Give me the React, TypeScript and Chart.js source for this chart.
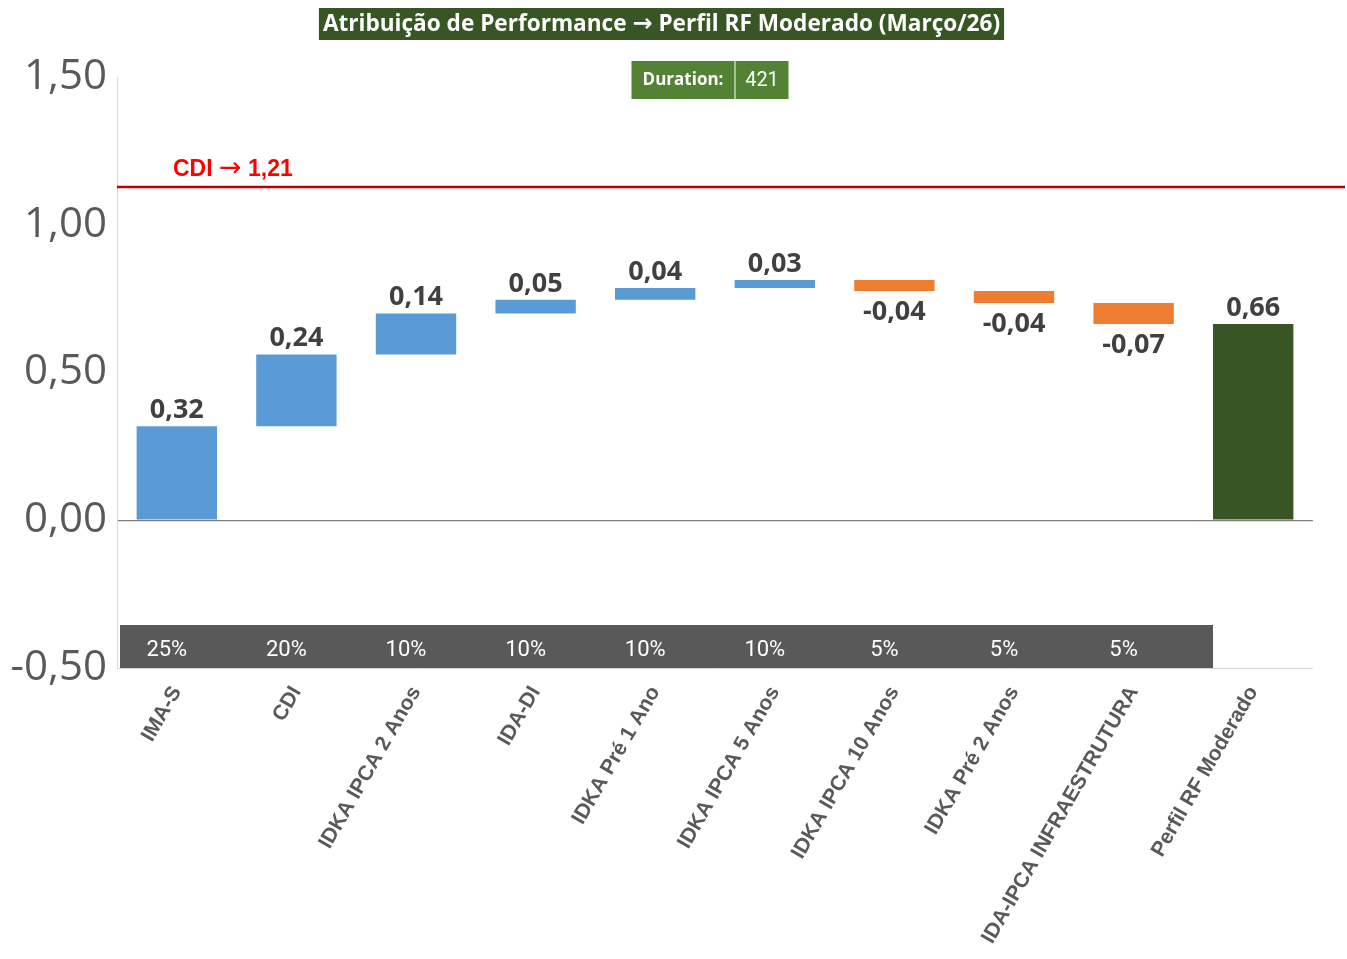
import React, { useEffect, useRef } from 'react';
import { Chart, registerables } from 'chart.js';

Chart.register(...registerables);

const titleLeft = 'Atribuição de Performance';
const titleRight = 'Perfil RF Moderado (Março/26)';
const arrowGlyph = '→';
const durationLabel = 'Duration:';
const durationValue = '421';
const categories = [
  'IMA-S',
  'CDI',
  'IDKA IPCA 2 Anos',
  'IDA-DI',
  'IDKA Pré 1 Ano',
  'IDKA IPCA 5 Anos',
  'IDKA IPCA 10 Anos',
  'IDKA Pré 2 Anos',
  'IDA-IPCA INFRAESTRUTURA',
  'Perfil RF Moderado',
];
const contributions = [0.318, 0.243, 0.139, 0.046, 0.04, 0.027, -0.037, -0.041, -0.071];
const totalValue = 0.664;
const weights = ['25%', '20%', '10%', '10%', '10%', '10%', '5%', '5%', '5%'];
const yMin = -0.5;
const yMax = 1.5;
const yStep = 0.5;
const cdiName = 'CDI';
const cdiReturnLabel = '1,21';
const cdiLineLevel = 1.128;

const fmt = (v: number) => v.toFixed(2).replace('.', ',');

const ranges: [number, number][] = [];
{
  let acc = 0;
  contributions.forEach((v) => {
    ranges.push([acc, acc + v]);
    acc += v;
  });
  ranges.push([0, totalValue]);
}
const labelValues = [...contributions, totalValue];
const barColors = labelValues.map((v, i) =>
  i === categories.length - 1 ? '#375623' : v >= 0 ? '#5B9BD5' : '#ED7D31'
);

function drawParts(ctx: CanvasRenderingContext2D, parts: [string, string][], x: number, y: number) {
  let cx = x;
  parts.forEach(([t, f]) => {
    ctx.font = f;
    ctx.fillText(t, cx, y);
    cx += ctx.measureText(t).width;
  });
}
function measureParts(ctx: CanvasRenderingContext2D, parts: [string, string][]) {
  let w = 0;
  parts.forEach(([t, f]) => {
    ctx.font = f;
    w += ctx.measureText(t).width;
  });
  return w;
}

const overlayPlugin = {
  id: 'overlay',
  beforeDatasetsDraw(chart: any) {
    const { ctx, chartArea, scales } = chart;
    const y = scales.y;
    const meta = chart.getDatasetMeta(0);
    const last = meta.data[meta.data.length - 1];
    const bottom = y.getPixelForValue(yMin);
    const left = chartArea.left + 3;
    const right = last.x - last.width / 2;
    ctx.save();
    // weights band
    ctx.fillStyle = '#595959';
    ctx.fillRect(left, bottom - 43, right - left, 43);
    ctx.fillStyle = '#FFFFFF';
    ctx.font = '22px Roboto';
    ctx.textAlign = 'center';
    ctx.textBaseline = 'middle';
    weights.forEach((w, i) => {
      ctx.fillText(w, meta.data[i].x - 10, bottom - 18);
    });
    // CDI line
    const ly = y.getPixelForValue(cdiLineLevel);
    ctx.strokeStyle = '#C00000';
    ctx.lineWidth = 2.5;
    ctx.beginPath();
    ctx.moveTo(chartArea.left, ly);
    ctx.lineTo(chart.width - 2, ly);
    ctx.stroke();
    ctx.fillStyle = '#FF0000';
    ctx.textAlign = 'left';
    ctx.textBaseline = 'alphabetic';
    drawParts(
      ctx,
      [
        [cdiName + ' ', 'bold 23px "Liberation Sans"'],
        [arrowGlyph, '27px "DejaVu Sans"'],
        [' ' + cdiReturnLabel, 'bold 23px "Liberation Sans"'],
      ],
      chartArea.left + 56,
      ly - 11
    );
    ctx.restore();
  },
  afterDatasetsDraw(chart: any) {
    const { ctx } = chart;
    const meta = chart.getDatasetMeta(0);
    ctx.save();
    ctx.fillStyle = '#404040';
    ctx.font = 'bold 27px "Open Sans"';
    ctx.textAlign = 'center';
    ctx.textBaseline = 'alphabetic';
    meta.data.forEach((el: any, i: number) => {
      const v = labelValues[i];
      const top = Math.min(el.y, el.base);
      const bot = Math.max(el.y, el.base);
      if (v >= 0) {
        ctx.fillText(fmt(v), el.x, top - 8);
      } else {
        ctx.fillText(fmt(v), el.x, bot + 29);
      }
    });
    ctx.restore();
  },
  afterDraw(chart: any) {
    const { ctx, chartArea } = chart;
    ctx.save();
    // title
    const tFont = 'bold 22.6px "Open Sans"';
    const parts: [string, string][] = [
      [titleLeft + ' ', tFont],
      [arrowGlyph, 'bold 24px "DejaVu Sans"'],
      [' ' + titleRight, tFont],
    ];
    const tw = measureParts(ctx, parts);
    const cx = chart.width / 2 - 12;
    const bw = tw + 8;
    ctx.fillStyle = '#375623';
    ctx.fillRect(cx - bw / 2, 8, bw, 32);
    ctx.fillStyle = '#FFFFFF';
    ctx.textAlign = 'left';
    ctx.textBaseline = 'middle';
    drawParts(ctx, parts, cx - tw / 2, 25);
    // duration box
    ctx.textAlign = 'center';
    const dcx = (chartArea.left + chartArea.right) / 2 - 5;
    const lw = 103;
    const vw = 53;
    const dl = dcx - (lw + vw + 1) / 2;
    ctx.fillStyle = '#548235';
    ctx.fillRect(dl, 61, lw, 38);
    ctx.fillRect(dl + lw + 1, 61, vw, 38);
    ctx.fillStyle = '#A9C79A';
    ctx.fillRect(dl + lw, 61, 1, 38);
    ctx.fillStyle = '#FFFFFF';
    ctx.font = 'bold 17px "Open Sans"';
    ctx.fillText(durationLabel, dl + lw / 2, 80);
    ctx.font = '20px Roboto';
    ctx.fillText(durationValue, dl + lw + 1 + vw / 2, 81);
    ctx.restore();
  },
};

export default function App() {
  const canvasRef = useRef<HTMLCanvasElement | null>(null);

  useEffect(() => {
    if (!canvasRef.current) return;
    const chart = new Chart(canvasRef.current, {
      type: 'bar',
      data: {
        labels: categories,
        datasets: [
          {
            data: ranges as any,
            backgroundColor: barColors,
            borderWidth: 0,
            categoryPercentage: 0.8,
            barPercentage: 0.84,
          },
        ],
      },
      options: {
        animation: false,
        responsive: true,
        maintainAspectRatio: false,
        layout: { padding: { top: 77, right: 34, bottom: 0, left: 0 } },
        plugins: {
          legend: { display: false },
          tooltip: { enabled: false },
          title: { display: false },
        },
        scales: {
          x: {
            grid: { display: false },
            border: { display: false },
            ticks: {
              color: '#595959',
              font: { family: '"Liberation Sans"', size: 21, weight: 'bold' },
              minRotation: 60,
              maxRotation: 60,
              autoSkip: false,
              padding: 6,
            },
            afterFit: (s: any) => {
              s.height = 291;
            },
          },
          y: {
            min: yMin,
            max: yMax,
            border: { display: true, color: '#D9D9D9' },
            grid: {
              drawTicks: false,
              color: (c: any) =>
                c.tick && c.tick.value === 0
                  ? '#808080'
                  : c.tick && c.tick.value === yMin
                  ? '#D9D9D9'
                  : 'rgba(0,0,0,0)',
              lineWidth: (c: any) => (c.tick && c.tick.value === 0 ? 1.3 : 1),
            },
            ticks: {
              stepSize: yStep,
              color: '#595959',
              font: { family: '"Open Sans"', size: 42 },
              padding: 10,
              callback: (v: any) => fmt(Number(v)),
            },
            afterFit: (s: any) => {
              s.width = 117;
            },
          },
        },
      },
      plugins: [overlayPlugin],
    });
    return () => chart.destroy();
  }, []);

  return (
    <div
      style={{
        position: 'fixed',
        left: 0,
        top: 0,
        width: 1347,
        height: 959,
        background: '#FFFFFF',
      }}
    >
      <canvas ref={canvasRef} />
    </div>
  );
}
